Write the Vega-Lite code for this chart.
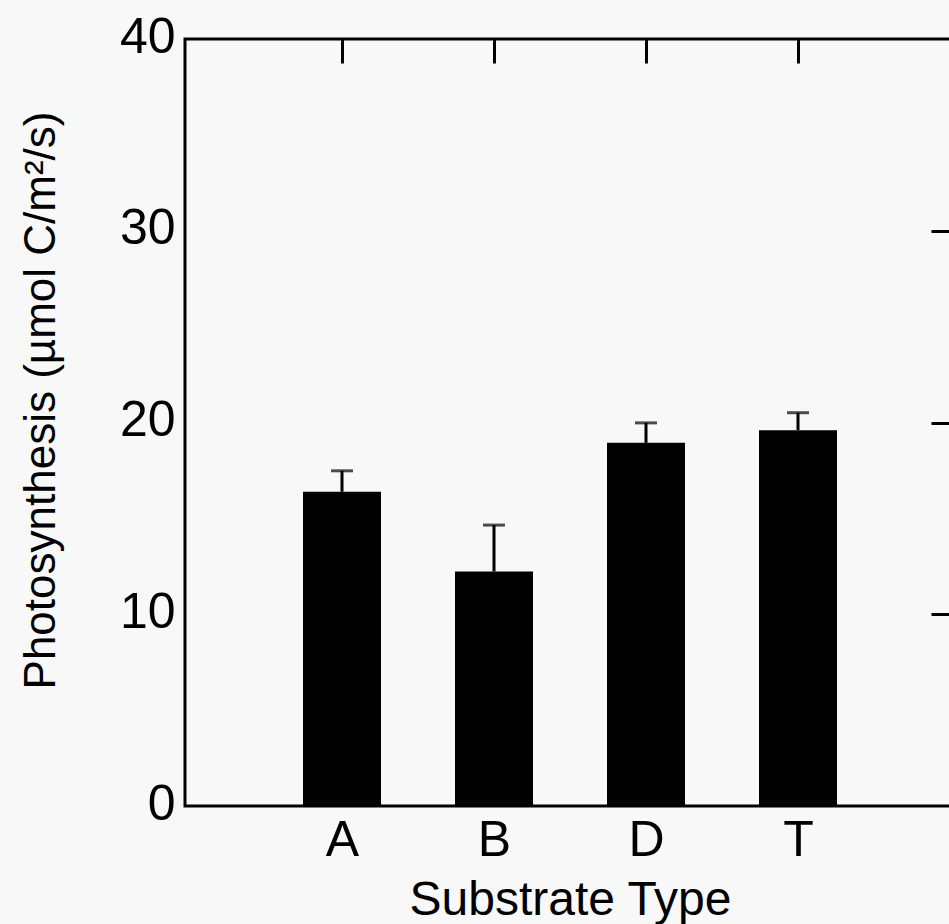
{
  "$schema": "https://vega.github.io/schema/vega-lite/v6.json",
  "width": 770,
  "height": 767,
  "autosize": {"type": "none"},
  "padding": {"left": 185, "top": 39, "right": 0, "bottom": 118},
  "background": "#f8f8f8",
  "config": {
    "font": "Liberation Sans",
    "view": {"stroke": "black", "strokeWidth": 3},
    "axis": {"grid": false, "domain": false, "labelColor": "black", "titleColor": "black", "tickColor": "black", "tickWidth": 3, "labelFlush": false, "labelOverlap": false, "labelBound": false, "titleFontWeight": "normal"}
  },
  "data": {
    "values": [
      {"cat": "A", "pos": 1, "value": 16.39, "err": 17.48},
      {"cat": "B", "pos": 2, "value": 12.23, "err": 14.65},
      {"cat": "D", "pos": 3, "value": 18.94, "err": 19.98},
      {"cat": "T", "pos": 4, "value": 19.6, "err": 20.51}
    ]
  },
  "layer": [
    {
      "mark": {"type": "bar", "size": 78, "color": "black"},
      "encoding": {
        "x": {
          "field": "pos", "type": "quantitative",
          "scale": {"domain": [0, 5], "nice": false, "zero": false},
          "axis": {
            "orient": "bottom", "values": [1, 2, 3, 4],
            "labelExpr": "datum.value == 1 ? 'A' : datum.value == 2 ? 'B' : datum.value == 3 ? 'D' : 'T'",
            "ticks": false, "tickSize": 0, "labelPadding": 9, "labelFontSize": 50,
            "title": "Substrate Type", "titleFontSize": 48, "titleBaseline": "alphabetic", "titleY": 108
          }
        },
        "y": {
          "field": "value", "type": "quantitative",
          "scale": {"domain": [0, 40], "nice": false},
          "axis": {
            "orient": "left", "values": [0, 10, 20, 30, 40],
            "ticks": false, "tickSize": 0, "labelPadding": 10, "labelFontSize": 50,
            "labelBaseline": "alphabetic", "labelOffset": 13,
            "title": "Photosynthesis (µmol C/m²/s)", "titleFontSize": 44,
            "titleX": -122, "titleY": 361
          }
        }
      }
    },
    {
      "mark": {"type": "rule", "color": "black", "strokeWidth": 3},
      "encoding": {
        "x": {
          "field": "pos", "type": "quantitative",
          "axis": {"orient": "top", "values": [1, 2, 3, 4], "labels": false, "tickSize": -24, "title": null}
        },
        "y": {
          "field": "value", "type": "quantitative",
          "axis": {"orient": "right", "values": [10, 20, 30], "labels": false, "tickSize": -24, "title": null}
        },
        "y2": {"field": "err"}
      }
    },
    {
      "mark": {"type": "tick", "orient": "horizontal", "color": "black", "size": 22, "thickness": 3},
      "encoding": {
        "x": {"field": "pos", "type": "quantitative", "axis": null},
        "y": {"field": "err", "type": "quantitative", "axis": null}
      }
    }
  ]
}
